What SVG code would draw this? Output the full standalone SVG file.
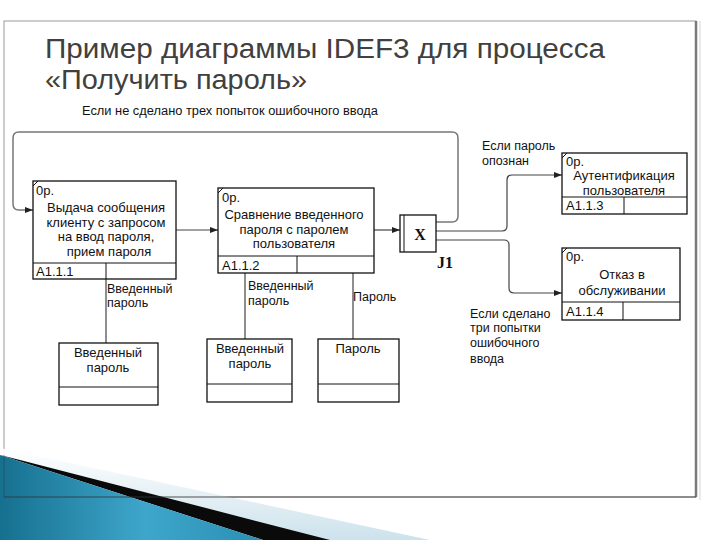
<svg xmlns="http://www.w3.org/2000/svg" width="720" height="540" viewBox="0 0 720 540">
<defs>
<marker id="arr" viewBox="0 0 8 6" refX="8" refY="3" markerWidth="8" markerHeight="6" markerUnits="userSpaceOnUse" orient="auto">
<path d="M0,0 L8,3 L0,6 z" fill="#222"/>
</marker>
<linearGradient id="teal" x1="0" y1="0" x2="1" y2="0">
<stop offset="0" stop-color="#16708f"/>
<stop offset="0.55" stop-color="#3ea6cb"/>
<stop offset="1" stop-color="#2a8fb3"/>
</linearGradient>
<linearGradient id="pale" x1="0" y1="0" x2="0" y2="1">
<stop offset="0" stop-color="#ffffff"/>
<stop offset="1" stop-color="#c7dfea"/>
</linearGradient>
<style>
.t{font-family:"Liberation Sans",Arial,sans-serif;font-size:12.5px;fill:#111}
.b{font-size:13px}
.c{text-anchor:middle}
.box{fill:#fff;stroke:#111;stroke-width:1.3}
.ln{fill:none;stroke:#111;stroke-width:1}
.con{fill:none;stroke:#444;stroke-width:1.2}
.loop{fill:none;stroke:#777;stroke-width:1.5}
.title{font-family:"Liberation Sans",Arial,sans-serif;font-size:27px;fill:#404040}
.serif{font-family:"Liberation Serif","Times New Roman",serif;font-weight:bold;fill:#111}
</style>
</defs>
<rect width="720" height="540" fill="#fff"/>
<!-- frame -->
<rect x="4" y="21" width="692" height="476" fill="#fff" stroke="#999" stroke-width="1"/>
<line x1="696" y1="21" x2="696" y2="497" stroke="#7a7a7a" stroke-width="2.5"/>
<line x1="700" y1="21" x2="700" y2="500" stroke="#e3e3e3" stroke-width="1.5"/>

<text class="title" x="45" y="58" textLength="560" lengthAdjust="spacingAndGlyphs">Пример диаграммы IDEF3 для процесса</text>
<text class="title" x="45" y="89" textLength="262" lengthAdjust="spacingAndGlyphs">«Получить пароль»</text>
<text class="t" x="82" y="115" textLength="296" lengthAdjust="spacingAndGlyphs">Если не сделано трех попыток ошибочного ввода</text>

<g id="connectors">
<path class="loop" d="M436,222 H452 Q458,222 458,216 V138 Q458,132 452,132 H19 Q13,132 13,138 V204 Q13,210 19,210 H33" marker-end="url(#arr)"/>
<path class="con" d="M176,230 H218" marker-end="url(#arr)"/>
<path class="con" d="M374,230 H400" marker-end="url(#arr)"/>
<path class="con" d="M436,231 H502 Q507,231 507,226 V180 Q507,175 512,175 H562" marker-end="url(#arr)"/>
<path class="con" d="M436,240 H504 Q509,240 509,245 V288 Q509,293 514,293 H562" marker-end="url(#arr)"/>
<path class="con" d="M106,279 V343"/>
<path class="con" d="M245,273 V339"/>
<path class="con" d="M353,273 V339"/>
</g>

<g id="lbl-conn">
<text class="t" x="107" y="293">Введенный</text>
<text class="t" x="107" y="307">пароль</text>
<text class="t" x="248" y="290">Введенный</text>
<text class="t" x="248" y="305">пароль</text>
<text class="t" x="353" y="301">Пароль</text>
<text class="t" x="482" y="150">Если пароль</text>
<text class="t" x="482" y="165">опознан</text>
<text class="t" x="470" y="318">Если сделано</text>
<text class="t" x="470" y="332">три попытки</text>
<text class="t" x="470" y="347">ошибочного</text>
<text class="t" x="470" y="363">ввода</text>
</g>

<g id="A111">
<rect class="box" x="33" y="181" width="143" height="98"/>
<line class="ln" x1="33" y1="263" x2="176" y2="263"/>
<line class="ln" x1="106" y1="263" x2="106" y2="279"/>
<line class="ln" x1="33" y1="186" x2="38" y2="181"/>
<text class="t b" x="36" y="195">0р.</text>
<text class="t b c" x="106" y="212">Выдача сообщения</text>
<text class="t b c" x="106" y="226.5">клиенту с запросом</text>
<text class="t b c" x="106" y="241">на ввод пароля,</text>
<text class="t b c" x="109" y="255.5">прием пароля</text>
<text class="t b" x="36" y="276">A1.1.1</text>
</g>

<g id="A112">
<rect class="box" x="218" y="188" width="156" height="85"/>
<line class="ln" x1="218" y1="256" x2="374" y2="256"/>
<line class="ln" x1="297" y1="256" x2="297" y2="273"/>
<line class="ln" x1="218" y1="193" x2="223" y2="188"/>
<text class="t b" x="222" y="202">0р.</text>
<text class="t b c" x="294" y="219">Сравнение введенного</text>
<text class="t b c" x="294" y="233.5">пароля с паролем</text>
<text class="t b c" x="294" y="248">пользователя</text>
<text class="t b" x="222" y="270">A1.1.2</text>
</g>

<g id="J1">
<rect class="box" x="400" y="215" width="36" height="37"/>
<line class="ln" x1="404" y1="215" x2="404" y2="252"/>
<text class="serif c" x="420" y="240" font-size="16">X</text>
<text class="serif" x="437" y="268" font-size="16">J1</text>
</g>

<g id="A113">
<rect class="box" x="562" y="153" width="125" height="61"/>
<line class="ln" x1="562" y1="197" x2="687" y2="197"/>
<line class="ln" x1="624" y1="197" x2="624" y2="214"/>
<line class="ln" x1="562" y1="158" x2="567" y2="153"/>
<text class="t b" x="566" y="166">0р.</text>
<text class="t b c" x="624" y="180">Аутентификация</text>
<text class="t b c" x="624" y="194.5">пользователя</text>
<text class="t b" x="566" y="210">A1.1.3</text>
</g>

<g id="A114">
<rect class="box" x="562" y="248" width="118" height="72"/>
<line class="ln" x1="562" y1="302" x2="680" y2="302"/>
<line class="ln" x1="623" y1="302" x2="623" y2="320"/>
<line class="ln" x1="562" y1="253" x2="567" y2="248"/>
<text class="t b" x="566" y="261">0р.</text>
<text class="t b c" x="622" y="279">Отказ в</text>
<text class="t b c" x="622" y="295">обслуживании</text>
<text class="t b" x="566" y="316">A1.1.4</text>
</g>

<g id="D1">
<rect class="box" x="59" y="343" width="99" height="62"/>
<line class="ln" x1="59" y1="387" x2="158" y2="387"/>
<text class="t b c" x="108" y="357">Введенный</text>
<text class="t b c" x="108" y="372">пароль</text>
</g>

<g id="D2">
<rect class="box" x="207" y="339" width="85" height="63"/>
<line class="ln" x1="207" y1="384" x2="292" y2="384"/>
<text class="t b c" x="250" y="353">Введенный</text>
<text class="t b c" x="250" y="368">пароль</text>
</g>

<g id="D3">
<rect class="box" x="318" y="339" width="81" height="63"/>
<line class="ln" x1="318" y1="384" x2="399" y2="384"/>
<text class="t b c" x="358" y="353">Пароль</text>
</g>

<!-- decoration -->
<polygon points="0,448 430,540 300,540 0,455" fill="url(#pale)" opacity="0.9"/>
<polygon points="0,455 20,460 330,540 263,540" fill="#0a0a0a"/>
<polygon points="0,455 263,540 0,540" fill="url(#teal)"/>
<line x1="4" y1="497" x2="696" y2="497" stroke="#333" stroke-opacity="0.55" stroke-width="1.5"/>
<line x1="4" y1="455" x2="4" y2="497" stroke="#333" stroke-opacity="0.4" stroke-width="1"/>
</svg>
